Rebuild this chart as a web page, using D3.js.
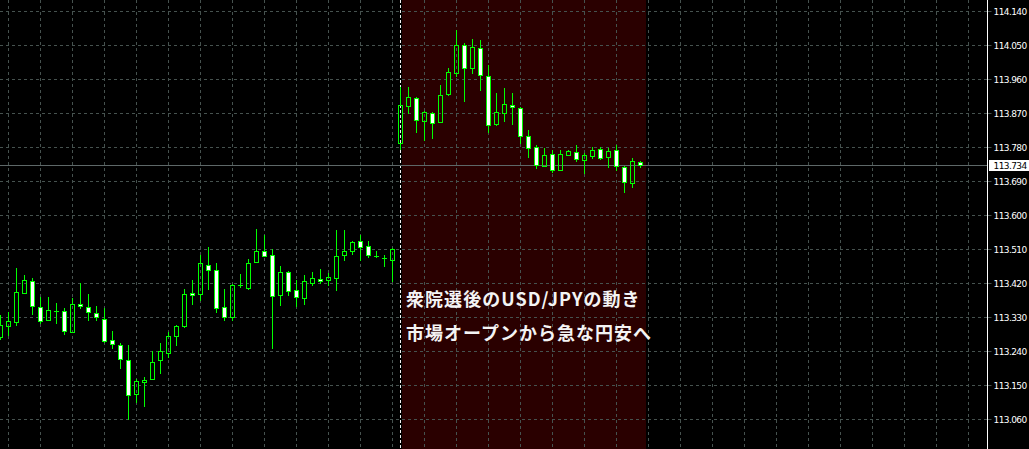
<!DOCTYPE html>
<html><head><meta charset="utf-8">
<script src="https://cdn.jsdelivr.net/npm/d3@7"></script>
<style>html,body{margin:0;padding:0;background:#000;overflow:hidden}</style>
</head><body>
<svg id="c" width="1029" height="449"></svg>
<script>
// USD/JPY candles (one per bar)
const open  = [113.276,113.306,113.316,113.393,113.426,113.357,113.322,113.346,113.346,113.290,
               113.365,113.357,113.341,113.325,113.270,113.256,113.217,113.126,113.158,113.165,
               113.216,113.234,113.279,113.306,113.394,113.390,113.468,113.455,113.357,113.329,
               113.414,113.408,113.475,113.505,113.495,113.388,113.448,113.402,113.380,113.420,
               113.430,113.427,113.433,113.494,113.504,113.532,113.519,113.491,113.487,113.480,
               113.790,113.888,113.910,113.848,113.871,113.846,113.920,113.975,114.049,113.989,
               114.043,113.969,113.840,113.870,113.892,113.884,113.810,113.781,113.729,113.762,
               113.719,113.759,113.766,113.745,113.756,113.776,113.753,113.771,113.728,113.684,
               113.741];
const high  = [113.334,113.344,113.460,113.440,113.434,113.382,113.382,113.366,113.355,113.379,
               113.419,113.390,113.360,113.355,113.294,113.262,113.255,113.166,113.170,113.241,
               113.262,113.290,113.310,113.405,113.429,113.495,113.514,113.474,113.405,113.418,
               113.445,113.484,113.562,113.546,113.509,113.466,113.451,113.429,113.440,113.450,
               113.456,113.447,113.559,113.559,113.530,113.546,113.530,113.505,113.495,113.513,
               113.939,113.939,113.912,113.874,113.873,113.945,113.990,114.091,114.054,114.067,
               114.062,113.996,113.922,113.937,113.924,113.885,113.824,113.784,113.778,113.771,
               113.771,113.773,113.784,113.765,113.779,113.781,113.778,113.784,113.729,113.750,
               113.742];
const low   = [113.273,113.283,113.308,113.393,113.337,113.314,113.322,113.313,113.286,113.290,
               113.353,113.323,113.323,113.263,113.247,113.194,113.061,113.104,113.094,113.165,
               113.183,113.225,113.257,113.303,113.364,113.376,113.403,113.343,113.323,113.323,
               113.410,113.405,113.475,113.491,113.247,113.363,113.387,113.359,113.365,113.415,
               113.419,113.415,113.401,113.482,113.498,113.480,113.489,113.489,113.466,113.425,
               113.775,113.869,113.821,113.798,113.803,113.846,113.918,113.967,113.903,113.976,
               113.932,113.819,113.837,113.848,113.841,113.791,113.753,113.724,113.729,113.713,
               113.718,113.758,113.742,113.712,113.750,113.747,113.728,113.718,113.660,113.674,
               113.728];
const close = [113.310,113.320,113.397,113.428,113.359,113.319,113.349,113.345,113.292,113.365,
               113.359,113.343,113.331,113.266,113.259,113.219,113.124,113.161,113.164,113.211,
               113.240,113.281,113.305,113.391,113.388,113.472,113.454,113.353,113.329,113.416,
               113.414,113.474,113.505,113.491,113.385,113.450,113.398,113.382,113.424,113.434,
               113.425,113.436,113.492,113.505,113.529,113.516,113.495,113.491,113.487,113.509,
               113.892,113.913,113.852,113.873,113.843,113.918,113.979,114.050,113.989,114.045,
               113.970,113.838,113.873,113.894,113.885,113.809,113.777,113.733,113.759,113.719,
               113.762,113.770,113.748,113.758,113.771,113.750,113.770,113.729,113.688,113.744,
               113.733];
const tickLabels = ["114.140","114.050","113.960","113.870","113.780","113.690","113.600",
                    "113.510","113.420","113.330","113.240","113.150","113.060"];
const currentPrice = 113.734;
const currentLabel = "113.734";
const sessionStart = 50, sessionEnd = 80.7;     // highlighted session (bar units)
const gridEvery = 4, gridFirst = 1;              // time grid every 4 bars
const title1 = "衆院選後のUSD/JPYの動き";
const title2 = "市場オープンから急な円安へ";

const W = 1029, H = 449, axisX = 987;
const lime = "#00ff00", gridColor = "#46524f";

const svg = d3.select("#c");
const x = d3.scaleLinear().domain([0, 1]).range([0.5, 8.5]);
const y = d3.scaleLinear().domain([113.06, 114.05]).range([419.5, 45.5]);
const py = v => Math.round(y(v) - 0.5) + 0.5;

svg.append("rect").attr("width", W).attr("height", H).attr("fill", "#000");

// highlighted session
svg.append("rect")
  .attr("x", Math.round(x(sessionStart)) + 1).attr("y", 0)
  .attr("width", Math.round(x(sessionEnd)) - Math.round(x(sessionStart)) - 1)
  .attr("height", H).attr("fill", "#2a0000");

// grid
const g = svg.append("g");
const vIdx = d3.range(gridFirst, 200, gridEvery).filter(i => x(i) < axisX - 5);
g.selectAll(".vg").data(vIdx).join("line")
  .attr("x1", d => x(d)).attr("x2", d => x(d)).attr("y1", 0).attr("y2", H)
  .attr("stroke", gridColor).attr("stroke-dasharray", "3,3");
g.selectAll(".hg").data(tickLabels.map(Number)).join("line")
  .attr("x1", 0).attr("x2", axisX).attr("y1", d => py(d)).attr("y2", d => py(d))
  .attr("stroke", gridColor).attr("stroke-dasharray", "3,3");

// period separator
svg.append("line").attr("x1", x(sessionStart)).attr("x2", x(sessionStart))
  .attr("y1", 0).attr("y2", H).attr("stroke", "#f0f0f0").attr("stroke-dasharray", "3,2");

// current price line
const cy = py(currentPrice) + 1;
svg.append("line").attr("x1", 0).attr("x2", axisX).attr("y1", cy).attr("y2", cy)
  .attr("stroke", "#5e6868");

// candles
const idx = d3.range(open.length);
const cg = svg.append("g").attr("stroke", lime).attr("stroke-width", 1);
idx.forEach(i => {
  const cx = x(i);
  const t = py(Math.max(open[i], close[i])), b = py(Math.min(open[i], close[i]));
  const hy = py(high[i]), ly = py(low[i]);
  const bear = close[i] < open[i];
  if (hy < t) cg.append("line").attr("x1", cx).attr("x2", cx).attr("y1", hy - 0.5).attr("y2", t);
  if (ly > b) cg.append("line").attr("x1", cx).attr("x2", cx).attr("y1", b).attr("y2", ly + 0.5);
  if (b - t < 1) {
    cg.append("line").attr("x1", cx - 2.5).attr("x2", cx + 2.5).attr("y1", t).attr("y2", t);
  } else {
    cg.append("rect").attr("x", cx - 2).attr("y", t).attr("width", 4).attr("height", b - t)
      .attr("fill", bear ? "#ffffff" : "none");
  }
});

// price axis
const axis = d3.axisRight(y).tickValues(tickLabels.map(Number))
  .tickFormat((d, i) => tickLabels[i]).tickSize(4).tickPadding(2).offset(0);
const ag = svg.append("g").attr("transform", `translate(${axisX + 0.5},0)`).call(axis);
ag.select(".domain").remove();
ag.selectAll(".tick").attr("transform", d => `translate(0,${py(d)})`);
ag.selectAll(".tick line").attr("stroke", gridColor);
ag.selectAll(".tick text").attr("fill", "#ffffff").attr("font-family", "'DejaVu Sans', sans-serif")
  .attr("font-size", 9).attr("letter-spacing", "-0.6px").attr("dy", "0.36em");
svg.append("line").attr("x1", axisX + 0.5).attr("x2", axisX + 0.5).attr("y1", 0).attr("y2", H)
  .attr("stroke", "#ffffff");

// current price label
svg.append("rect").attr("x", axisX + 2).attr("y", cy - 5.5).attr("width", W - axisX - 2).attr("height", 11)
  .attr("fill", "#ffffff");
svg.append("text").attr("x", axisX + 6.5).attr("y", cy).attr("dy", "0.36em").text(currentLabel)
  .attr("fill", "#000").attr("font-family", "'DejaVu Sans', sans-serif")
  .attr("font-size", 9).attr("letter-spacing", "-0.6px");

// titles
const tg = svg.append("g").attr("font-family", "'Noto Sans CJK JP', 'Noto Sans', sans-serif")
  .attr("font-weight", "bold").attr("font-size", 18).attr("fill", "#f4f4f4");
tg.append("text").attr("x", 406).attr("y", 306).attr("letter-spacing", "1.05px").text(title1);
tg.append("text").attr("x", 406).attr("y", 340).attr("letter-spacing", "1px").text(title2);
</script>
</body></html>
